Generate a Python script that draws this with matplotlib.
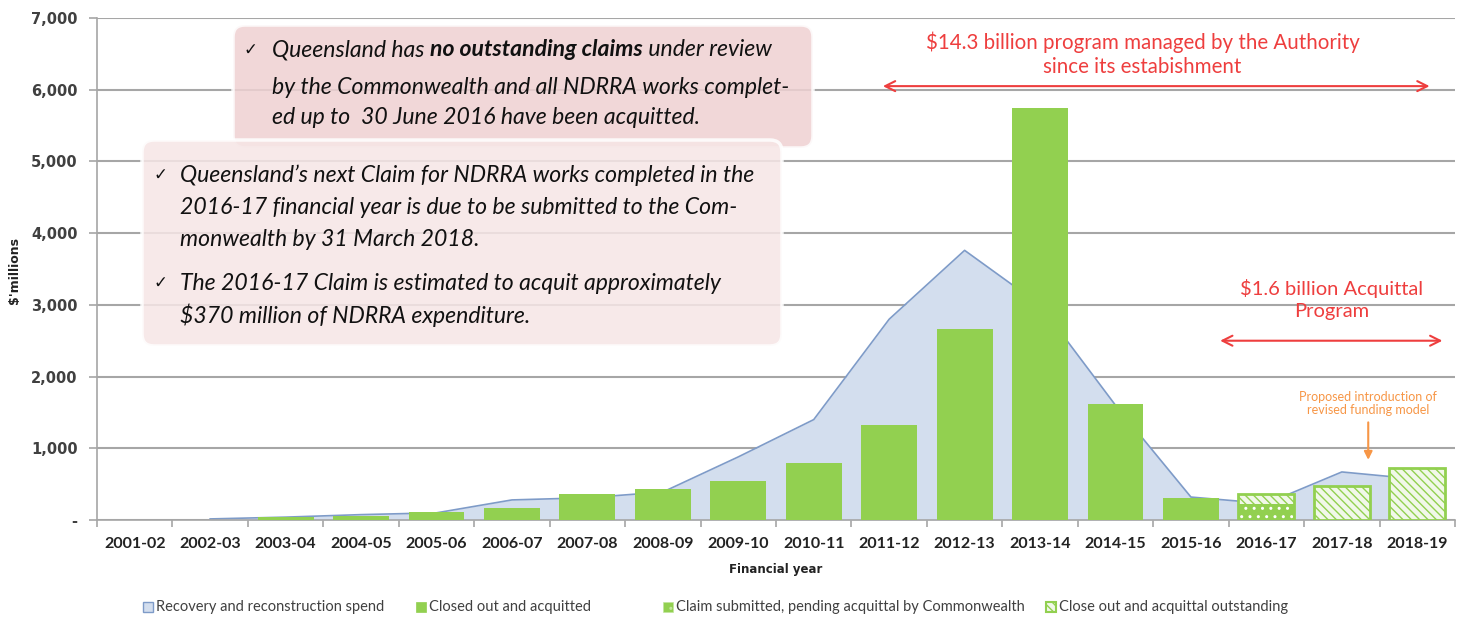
import numpy as np
import matplotlib
matplotlib.use("Agg")
import matplotlib.pyplot as plt
from matplotlib.patches import Rectangle, FancyBboxPatch
from matplotlib.transforms import IdentityTransform
from matplotlib.ticker import FuncFormatter

years = ['2001-02', '2002-03', '2003-04', '2004-05', '2005-06', '2006-07', '2007-08',
         '2008-09', '2009-10', '2010-11', '2011-12', '2012-13', '2013-14', '2014-15',
         '2015-16', '2016-17', '2017-18', '2018-19']
spend = [np.nan, 15, 40, 75, 100, 280, 310, 390, 880, 1400, 2800, 3760, 3000, 1600, 320, 230, 670, 570]
closed = [0, 0, 35, 55, 110, 165, 360, 430, 545, 795, 1320, 2660, 5750, 1620, 310, 0, 0, 0]
pending = [0, 0, 0, 0, 0, 0, 0, 0, 0, 0, 0, 0, 0, 0, 0, 225, 0, 0]
outstanding = [0, 0, 0, 0, 0, 0, 0, 0, 0, 0, 0, 0, 0, 0, 0, 135, 475, 730]

legend_labels = ['Recovery and reconstruction spend', 'Closed out and acquitted',
                 'Claim submitted, pending acquittal by Commonwealth',
                 'Close out and acquittal outstanding']

GREEN = '#92D050'
AREA = '#D3DEEE'
AREA_LINE = '#7E9BC8'
GRID = '#A6A6A6'
RED = '#EE3E3E'
ORANGE = '#F79646'
TXT = '#404040'

plt.rcParams['hatch.linewidth'] = 1.0

W, H = 1459, 617
fig = plt.figure(figsize=(W / 100, H / 100), dpi=100)
ax = fig.add_axes([97 / W, 1 - 520 / H, (1455 - 97) / W, (520 - 18) / H])

x = np.arange(len(years))
sp = np.array(spend, dtype=float)
m = ~np.isnan(sp)
ax.fill_between(x[m], 0, sp[m], color=AREA, zorder=1, lw=0)
ax.plot(x[m], sp[m], color=AREA_LINE, lw=1.2, zorder=1.5)

bw = 0.74
ax.bar(x, closed, bw, color=GREEN, zorder=3, lw=0)
pend = np.array(pending)
outs = np.array(outstanding)
ax.bar(x, pend, bw, color=GREEN, edgecolor='white', hatch='..', lw=0, zorder=3)
ax.bar(x, outs, bw, bottom=pend, color='#F1F8E9', edgecolor=GREEN, hatch='\\\\\\\\',
       lw=0, zorder=3)
tot = pend + outs
idx = tot > 0
ax.bar(x[idx], tot[idx], bw, fill=False, edgecolor=GREEN, lw=2, zorder=4)

ax.set_xlim(-0.5, 17.5)
ax.set_ylim(0, 7000)
ax.set_yticks(np.arange(0, 7001, 1000))
ax.yaxis.set_major_formatter(FuncFormatter(lambda v, p: '-' if v == 0 else f'{int(v):,}'))
ax.grid(axis='y', color=GRID, lw=1.5, zorder=0)
ax.set_axisbelow(True)
for s in ['top', 'right']:
    ax.spines[s].set_visible(False)
for s in ['left', 'bottom']:
    ax.spines[s].set_color(GRID)
    ax.spines[s].set_linewidth(1.2)

ax.set_xticks(x)
ax.set_xticklabels(years, fontfamily='Lato', fontweight='bold', fontsize=11.5, color='#222222')
ax.set_xticks(np.arange(-0.5, 18, 1), minor=True)
ax.tick_params(axis='x', which='major', length=0, pad=12)
ax.tick_params(axis='x', which='minor', length=5, color=GRID, width=1.2)
ax.tick_params(axis='y', length=6, color=GRID, width=1.2, pad=8)
for t in ax.get_yticklabels():
    t.set_fontweight('bold')
    t.set_fontsize(10.5)
    t.set_color(TXT)

fig.text(15 / W, 1 - 270 / H, "$'millions", rotation=90, ha='center', va='center',
         fontsize=9, fontweight='bold', color='#222222')
fig.text(776 / W, 1 - 570 / H, 'Financial year', ha='center', va='center',
         fontsize=8.5, fontweight='bold', color='#222222')

# red program arrows
ax.annotate('', xy=(17.2, 6050), xytext=(9.88, 6050),
            arrowprops=dict(arrowstyle='<->', color=RED, lw=1.5, mutation_scale=18), zorder=6)
ax.text(13.36, 6500, '$14.3 billion program managed by the Authority\nsince its estabishment',
        ha='center', va='center', color=RED, fontsize=14.8, fontfamily='Lato', linespacing=1.25)
ax.annotate('', xy=(17.37, 2500), xytext=(14.35, 2500),
            arrowprops=dict(arrowstyle='<->', color=RED, lw=1.5, mutation_scale=18), zorder=6)
ax.text(15.86, 3070, '$1.6 billion Acquittal\nProgram', ha='center', va='center',
        color=RED, fontsize=14.5, fontfamily='Lato', linespacing=1.35)

# orange note
ax.text(16.35, 1620, 'Proposed introduction of\nrevised funding model', ha='center', va='center',
        color=ORANGE, fontsize=9, fontfamily='Lato', linespacing=1.1)
ax.annotate('', xy=(16.35, 800), xytext=(16.35, 1400),
            arrowprops=dict(arrowstyle='-|>', color=ORANGE, lw=1.5, mutation_scale=12), zorder=6)

# callout boxes (pixel coords, top-down)
def box(x0, y0, x1, y1, color, alpha):
    p = FancyBboxPatch((x0, H - y1), x1 - x0, y1 - y0,
                       boxstyle='round,pad=0,rounding_size=12',
                       transform=IdentityTransform(), facecolor=color, alpha=alpha,
                       edgecolor='white', lw=2.5, zorder=10)
    fig.add_artist(p)

box(233, 25, 813, 148, '#EFD1D2', 0.85)
box(142, 140, 782, 346, '#F6E6E6', 0.86)

fam = ['Lato', 'DejaVu Sans']
fs = 16.6
fig.canvas.draw()
rend = fig.canvas.get_renderer()


def line(px, py, parts):
    cx = px
    for s, w in parts:
        t = fig.text(cx / W, 1 - py / H, s, fontsize=fs, fontstyle='italic', fontweight=w,
                     fontfamily=fam, va='center', ha='left', color='#111111', zorder=11)
        cx += t.get_window_extent(rend).width


def check(px, py):
    fig.text(px / W, 1 - py / H, '\u2713', fontsize=12, fontfamily='DejaVu Sans',
             va='center', ha='left', color='#111111', zorder=11)


check(243, 50)
line(272, 50, [('Queensland has ', 'normal'), ('no outstanding claims', 'bold'),
               (' under review', 'normal')])
line(272, 88, [('by the Commonwealth and all NDRRA works complet-', 'normal')])
line(272, 118, [('ed up to  30 June 2016 have been acquitted.', 'normal')])

check(153, 175)
line(180, 175, [('Queensland\u2019s next Claim for NDRRA works completed in the', 'normal')])
line(180, 207, [('2016-17 financial year is due to be submitted to the Com-', 'normal')])
line(180, 240, [('monwealth by 31 March 2018.', 'normal')])
check(153, 283)
line(180, 283, [('The 2016-17 Claim is estimated to acquit approximately', 'normal')])
line(180, 315, [('$370 million of NDRRA expenditure.', 'normal')])

# legend drawn by hand at the reference's entry positions
leg_x = [143, 416, 663, 1046]
leg_styles = [dict(facecolor=AREA, edgecolor=AREA_LINE, lw=1),
              dict(facecolor=GREEN, edgecolor=GREEN, lw=0.5),
              dict(facecolor=GREEN, edgecolor='#C2E59E', hatch='..', lw=0.5),
              dict(facecolor='#F1F8E9', edgecolor=GREEN, hatch='\\\\\\\\', lw=1.5)]
for lx, lab, st in zip(leg_x, legend_labels, leg_styles):
    fig.add_artist(Rectangle((lx, H - 612), 10, 10, transform=IdentityTransform(), **st))
    fig.text((lx + 13) / W, 1 - 607 / H, lab, fontfamily='Lato', fontsize=10.5,
             color=TXT, va='center', ha='left')

fig.savefig('out.png', dpi=100)
plt.close(fig)
